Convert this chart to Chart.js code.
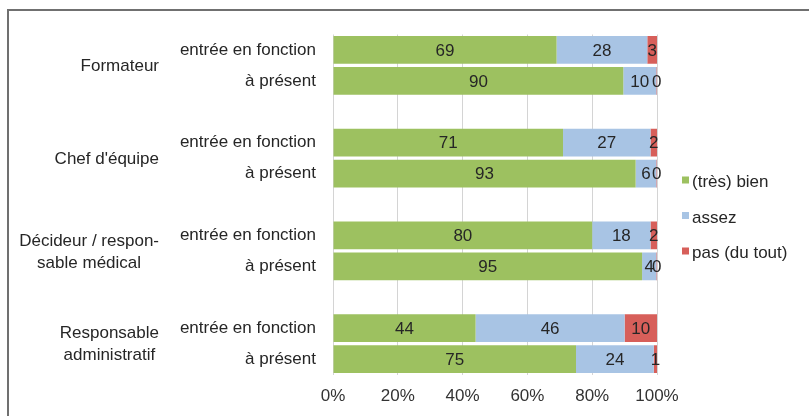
<!DOCTYPE html>
<html>
<head>
<meta charset="utf-8">
<script src="https://cdn.jsdelivr.net/npm/chart.js@4"></script>
<style>
    body { margin: 0; background: #fff; }
    #wrap { position: relative; width: 809px; height: 416px; overflow: hidden; }
    #frame { position: absolute; left: 7px; top: 9px; width: 900px; height: 500px;
             border-top: 2px solid #707070; border-left: 2px solid #707070; }
    #chartCanvas { position: absolute; left: 0; top: 0; }
</style>
</head>
<body>
<div id="wrap">
    <div id="frame"></div>
    <canvas id="chartCanvas" width="809" height="416"></canvas>
</div>
<script>
let groups = ['Formateur', "Chef d'équipe", ['Décideur / respon-', 'sable médical'], ['Responsable', 'administratif']];
let periods = ['entrée en fonction', 'à présent'];
// shares in %, labels are shown rounded
let tresBien = [69, 89.6, 71, 93.4, 80, 95.4, 44, 75];
let assez = [28, 10.2, 27, 6.4, 18, 4.4, 46, 24];
let pasDuTout = [3, 0.2, 2, 0.2, 2, 0.2, 10, 1];
let seriesNames = ['(très) bien', 'assez', 'pas (du tout)'];
let seriesColors = ['#9dc160', '#a8c4e4', '#d75f5a'];
let xTicks = [0, 20, 40, 60, 80, 100];

let FONT = "'Liberation Sans', Arial, sans-serif";
let TEXT = '#262626';

// 4 groups of 2 bars, an empty slot between groups
let labels = [];
let rowIndex = [];  // slot of each data row
groups.forEach(function (g, gi) {
    if (gi > 0) labels.push('');
    periods.forEach(function (p) {
        rowIndex.push(labels.length);
        labels.push(p);
    });
});

let spread = function (values) {
    let out = labels.map(function () { return null; });
    values.forEach(function (v, i) { out[rowIndex[i]] = v; });
    return out;
};

let valuesAll = [tresBien, assez, pasDuTout];

let barLabels = {
    id: 'barLabels',
    afterDatasetsDraw: function (chart) {
        let ctx = chart.ctx;
        ctx.save();
        ctx.font = '17px ' + FONT;
        ctx.fillStyle = TEXT;
        ctx.textAlign = 'center';
        ctx.textBaseline = 'middle';
        chart.data.datasets.forEach(function (ds, i) {
            let meta = chart.getDatasetMeta(i);
            meta.data.forEach(function (bar, j) {
                let v = ds.data[j];
                if (v === null) return;
                let p = bar.getProps(['x', 'y', 'base'], true);
                ctx.fillText(String(Math.round(v)), (p.x + p.base) / 2, p.y + 1);
            });
        });
        ctx.restore();
    }
};

let groupLabels = {
    id: 'groupLabels',
    afterDraw: function (chart) {
        let ctx = chart.ctx;
        let y = chart.scales.y;
        ctx.save();
        ctx.font = '17px ' + FONT;
        ctx.fillStyle = TEXT;
        ctx.textAlign = 'center';
        ctx.textBaseline = 'middle';
        let right = 159;
        let lineH = 22;
        groups.forEach(function (g, gi) {
            let lines = Array.isArray(g) ? g : [g];
            let a = y.getPixelForValue(rowIndex[gi * 2]);
            let b = y.getPixelForValue(rowIndex[gi * 2 + 1]);
            let mid = (a + b) / 2;
            let w = Math.max.apply(null, lines.map(function (l) { return ctx.measureText(l).width; }));
            let cx = right - w / 2;
            lines.forEach(function (l, li) {
                ctx.fillText(l, cx, mid + (li - (lines.length - 1) / 2) * lineH + 1);
            });
        });

        // legend
        let lx = chart.chartArea.right + 25;
        let ly = (chart.chartArea.top + chart.chartArea.bottom) / 2 + 12.5;
        ctx.textAlign = 'left';
        seriesNames.forEach(function (name, i) {
            let yy = ly + (i - 1) * 35.5;
            ctx.fillStyle = seriesColors[i];
            ctx.fillRect(lx, yy - 5, 7, 7);
            ctx.fillStyle = TEXT;
            ctx.fillText(name, lx + 10, yy + 1);
        });
        ctx.restore();
    }
};

let ctx = document.getElementById('chartCanvas').getContext('2d');
window.barChart = new Chart(ctx, {
    type: 'bar',
    data: {
        labels: labels,
        datasets: valuesAll.map(function (vals, i) {
            return {
                label: seriesNames[i],
                data: spread(vals),
                backgroundColor: seriesColors[i],
                borderWidth: 0,
                barPercentage: 0.9,
                categoryPercentage: 1
            };
        })
    },
    options: {
        indexAxis: 'y',
        responsive: false,
        animation: false,
        layout: { padding: { top: 34.5, right: 152, left: 0, bottom: 0 } },
        plugins: {
            legend: { display: false },
            tooltip: { enabled: false }
        },
        scales: {
            x: {
                stacked: true,
                min: 0,
                max: 100,
                afterBuildTicks: function (scale) {
                    scale.ticks = xTicks.map(function (v) { return { value: v }; });
                },
                afterFit: function (scale) { scale.height = 41.5; },
                grid: { color: '#d4d4d4', drawTicks: false },
                border: { display: false },
                ticks: {
                    padding: 12,
                    color: '#333',
                    font: { family: FONT, size: 17 },
                    callback: function (v) { return v + '%'; }
                }
            },
            y: {
                stacked: true,
                afterFit: function (scale) { scale.width = 333; },
                grid: { display: false, drawTicks: false },
                border: { display: false },
                ticks: {
                    padding: 17,
                    color: TEXT,
                    autoSkip: false,
                    font: { family: FONT, size: 17 }
                }
            }
        }
    },
    plugins: [barLabels, groupLabels]
});
</script>
</body>
</html>
